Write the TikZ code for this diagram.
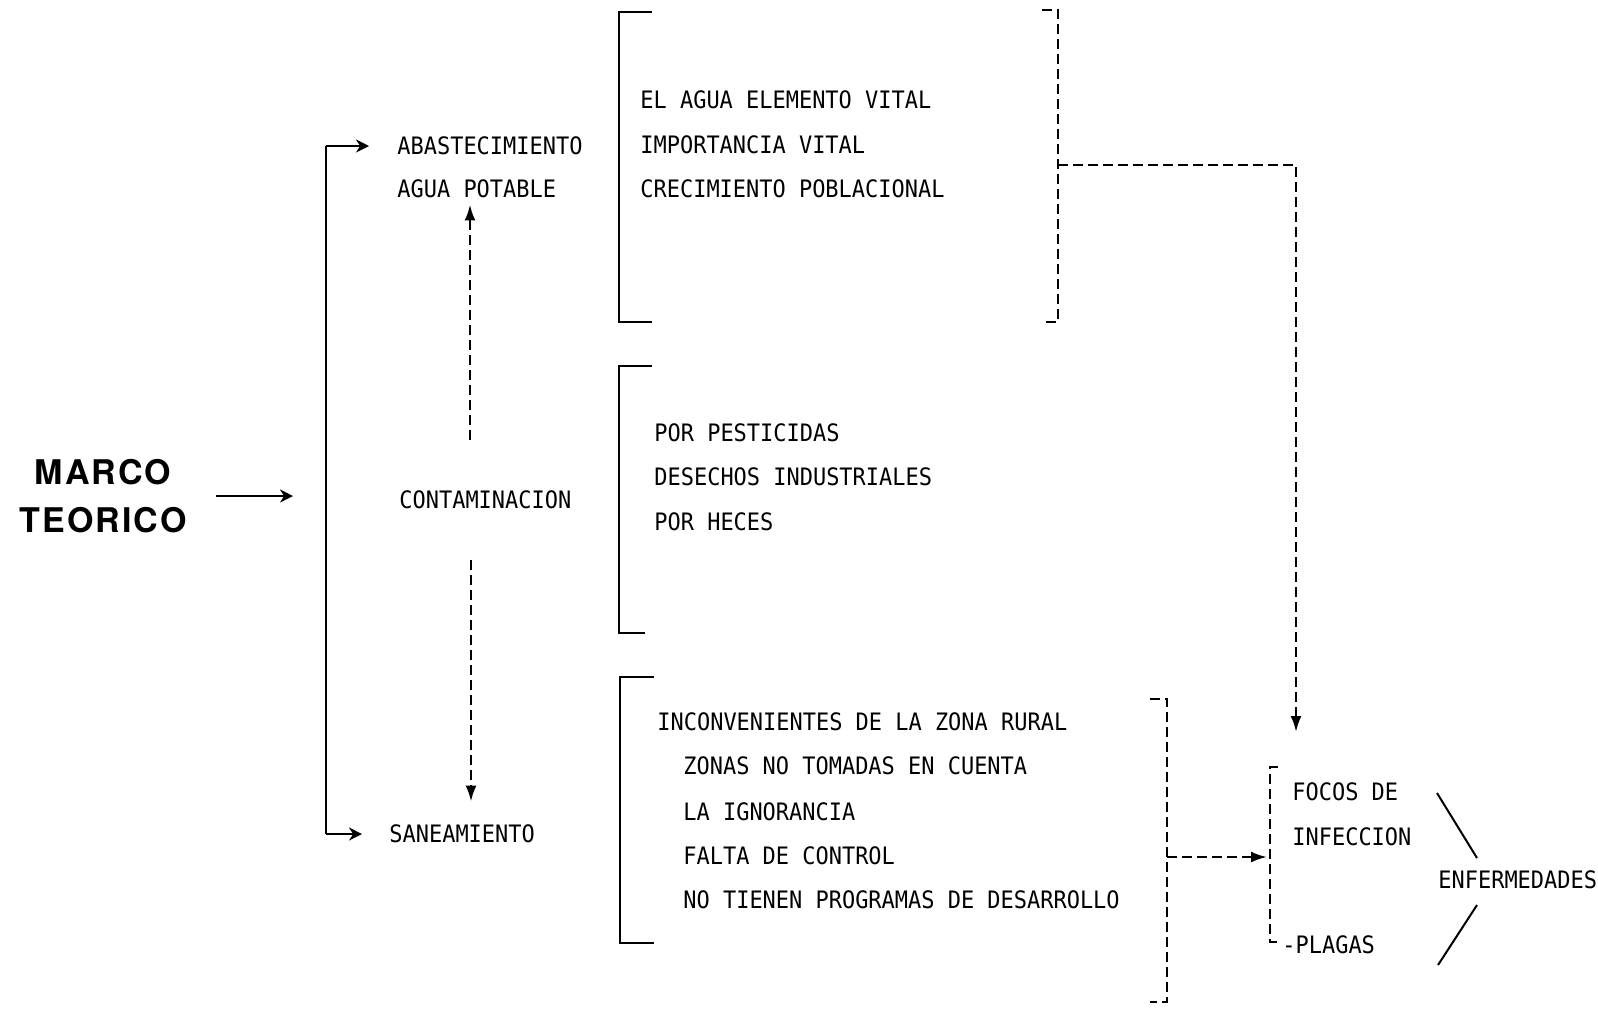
\documentclass[tikz,border=0pt]{standalone}
\usepackage{fontspec}
\setmonofont[FakeStretch=0.915]{DejaVu Sans Mono}
\newfontfamily\headfont[LetterSpace=6]{TeX Gyre Heros}
\usetikzlibrary{arrows.meta}
\begin{document}
\begin{tikzpicture}[x=0.5pt,y=-0.5pt,
  lbl/.style={anchor=west,inner sep=0pt,font=\ttfamily\fontsize{12}{14}\selectfont},
  solidline/.style={line width=1.3pt},
  thinline/.style={line width=1pt},
  dashline/.style={line width=1.2pt,dash pattern=on 5pt off 2.5pt},
  sarrow/.style={solidline,-{Stealth[length=6.5pt,width=6.5pt]}},
  darrow/.style={dashline,-{Latex[length=8pt,width=5.5pt]}},
]
\fill[white] (0,0) rectangle (1598,1014);
\useasboundingbox (0,0) rectangle (1598,1014);

% title
\node[font=\headfont\bfseries\fontsize{17}{24}\selectfont,align=center,
      inner sep=0pt,minimum width=113pt] (marco) at (103,496) {MARCO\\TEORICO};

% main items
\node[lbl] (abast1) at (397,146) {ABASTECIMIENTO};
\node[lbl] (abast2) at (397,189) {AGUA POTABLE};
\node[lbl] (contam) at (399,500) {CONTAMINACION};
\node[lbl] (sanea)  at (389,834) {SANEAMIENTO};

% trunk
\coordinate (ttop) at (326,146);
\coordinate (tbot) at (326,834);
\coordinate (tmid) at (326,493);
\draw[solidline] (ttop) -- (tbot);
\draw[sarrow,shorten >=14pt] (ttop) -- (abast1.west);
\draw[sarrow,shorten >=13.5pt] (tbot) -- (sanea.west);
\draw[sarrow,shorten >=16.5pt] (marco.east) -- (marco.east -| tmid);

% dashed vertical arrows
\coordinate (xa) at (470,0);
\coordinate (xb) at (471,0);
\draw[darrow,shorten <=25.5pt,shorten >=3pt] (contam.north -| xa) -- (abast2.south -| xa);
\draw[darrow,shorten <=25.5pt,shorten >=11.5pt] (contam.south -| xb) -- (sanea.north -| xb);

% bracket 1
\draw[solidline] (652,12) -- (619,12) -- (619,322) -- (652,322);
\node[lbl] (e1) at (640,100) {EL AGUA ELEMENTO VITAL};
\node[lbl] (e2) at (640,145) {IMPORTANCIA VITAL};
\node[lbl] (e3) at (640,189) {CRECIMIENTO POBLACIONAL};
\draw[dashline] (1042,10) -- (1058,10) -- (1058,322) -- (1042,322);

% bracket 2
\draw[solidline] (652,366) -- (619,366) -- (619,633) -- (645,633);
\node[lbl] (c1) at (654,433) {POR PESTICIDAS};
\node[lbl] (c2) at (654,477) {DESECHOS INDUSTRIALES};
\node[lbl] (c3) at (654,522) {POR HECES};

% bracket 3
\draw[solidline] (654,677) -- (620,677) -- (620,943) -- (654,943);
\node[lbl] (s1) at (657,722) {INCONVENIENTES DE LA ZONA RURAL};
\node[lbl] (s2) at (683,766) {ZONAS NO TOMADAS EN CUENTA};
\node[lbl] (s3) at (683,812) {LA IGNORANCIA};
\node[lbl] (s4) at (683,856) {FALTA DE CONTROL};
\node[lbl] (s5) at (683,900) {NO TIENEN PROGRAMAS DE DESARROLLO};
\draw[dashline] (1150,699) -- (1167,699) -- (1167,1002) -- (1150,1002);

% focos bracket
\node[lbl] (f1) at (1292,792) {FOCOS DE};
\node[lbl] (f2) at (1292,837) {INFECCION};
\node[lbl] (plagas) at (1282,945) {-PLAGAS};
\draw[dashline] (1278,767) -- (1270,767) -- (1270,942) -- (1280,942);

% connectors to focos
\coordinate (r1) at (1058,165);
\coordinate (fin) at (1296,732);
\draw[darrow] (r1) -| (fin);
\coordinate (r3) at (1167,857);
\coordinate (fl) at (1267,857);
\draw[darrow] (r3) -- (fl);

% enfermedades
\node[lbl] (enf) at (1438,880) {ENFERMEDADES};
\draw[thinline] (1437,793) -- (1477,858);
\draw[thinline] (1477,905) -- (1438,965);
\end{tikzpicture}
\end{document}
